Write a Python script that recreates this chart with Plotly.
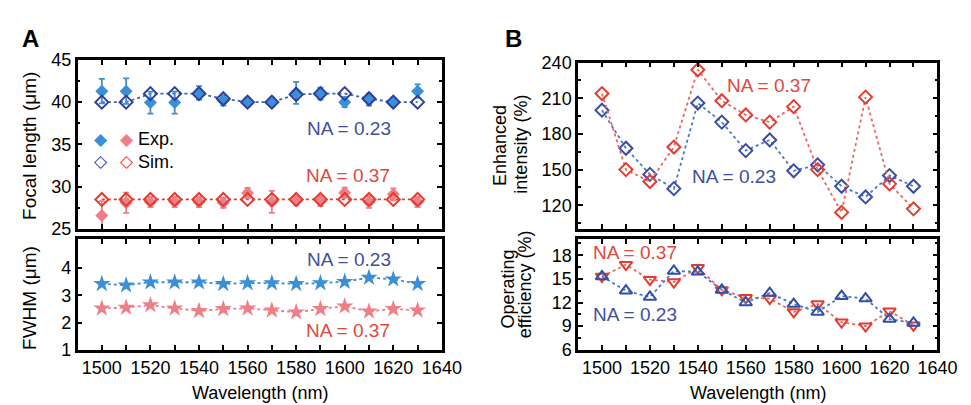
import plotly.graph_objects as go

wavelength = [1500, 1510, 1520, 1530, 1540, 1550, 1560, 1570, 1580, 1590, 1600, 1610, 1620, 1630]

# Panel A top: focal length (um)
focal_exp_023 = [41.3, 41.3, 39.95, 39.95, 41.1, 40.2, 40.0, 40.0, 41.1, 41.0, 40.0, 40.3, 40.0, 41.3]
focal_exp_023_err = [1.45, 1.5, 1.3, 1.3, 0.8, 0.6, 0.5, 0.5, 1.3, 0.7, 0.6, 0.7, 0.5, 0.8]
focal_sim_023 = [40.0, 40.0, 41.0, 41.0, 41.0, 40.4, 40.0, 40.0, 40.9, 41.0, 41.0, 40.4, 40.0, 40.0]
focal_exp_037 = [26.6, 28.1, 28.2, 28.2, 28.2, 28.1, 29.25, 28.2, 28.3, 28.3, 29.3, 28.2, 29.1, 28.2]
focal_exp_037_err = [1.7, 1.2, 0.6, 0.6, 0.6, 0.6, 0.6, 1.3, 0.5, 0.6, 0.6, 0.7, 0.7, 0.6]
focal_sim_037 = [28.5] * 14

# Panel A bottom: FWHM (um)
fwhm_023 = [3.42, 3.37, 3.48, 3.48, 3.48, 3.42, 3.45, 3.45, 3.42, 3.45, 3.50, 3.65, 3.59, 3.42]
fwhm_037 = [2.52, 2.55, 2.64, 2.52, 2.43, 2.50, 2.52, 2.45, 2.38, 2.50, 2.60, 2.41, 2.50, 2.45]

# Panel B top: enhanced intensity (%)
intensity_023 = [200, 168, 146, 134, 206, 190, 166, 175, 149, 154, 136, 127, 145, 136]
intensity_037 = [214, 150, 140, 169, 234, 208, 196, 190, 203, 150, 114, 211, 138, 117]

# Panel B bottom: operating efficiency (%)
efficiency_023 = [15.3, 13.5, 12.7, 16.0, 15.9, 13.6, 12.0, 13.2, 11.8, 10.8, 12.8, 12.5, 9.9, 9.4]
efficiency_037 = [15.3, 16.8, 14.9, 14.6, 16.4, 13.6, 12.6, 12.5, 10.8, 11.8, 9.5, 9.0, 10.9, 9.1]

x_tick_vals = [1500, 1520, 1540, 1560, 1580, 1600, 1620, 1640]

W, H = 971, 405
FONT = "Liberation Sans, Arial, sans-serif"

C_EXP_B = "#3b8fd4"
C_SIM_B = "#2e3f9c"
C_LINE_B = "#3d62b8"
C_EXP_R = "#ee7f87"
C_SIM_R = "#e63c30"
C_TXT_B = "#3c4fa0"
C_TXT_R = "#e5463a"

fig = go.Figure()

# ---- Panel A top
fig.add_trace(go.Scatter(x=wavelength, y=focal_sim_023, mode="lines", line=dict(color=C_LINE_B, width=1.8, dash="dot"),
                         xaxis="x", yaxis="y", showlegend=False))
fig.add_trace(go.Scatter(x=wavelength, y=focal_sim_037, mode="lines", line=dict(color=C_SIM_R, width=1.8, dash="dot"),
                         xaxis="x", yaxis="y", showlegend=False))
fig.add_trace(go.Scatter(x=wavelength, y=focal_exp_023, mode="markers",
                         marker=dict(symbol="diamond", size=10, color=C_EXP_B),
                         error_y=dict(type="data", array=focal_exp_023_err, color=C_EXP_B, thickness=1.8, width=3),
                         xaxis="x", yaxis="y", showlegend=False))
fig.add_trace(go.Scatter(x=wavelength, y=focal_exp_037, mode="markers",
                         marker=dict(symbol="diamond", size=10, color=C_EXP_R),
                         error_y=dict(type="data", array=focal_exp_037_err, color=C_EXP_R, thickness=1.8, width=3),
                         xaxis="x", yaxis="y", showlegend=False))
fig.add_trace(go.Scatter(x=wavelength, y=focal_sim_023, mode="markers",
                         marker=dict(symbol="diamond-open", size=10, color=C_SIM_B, line=dict(width=2)),
                         xaxis="x", yaxis="y", showlegend=False))
fig.add_trace(go.Scatter(x=wavelength, y=focal_sim_037, mode="markers",
                         marker=dict(symbol="diamond-open", size=10, color=C_SIM_R, line=dict(width=2)),
                         xaxis="x", yaxis="y", showlegend=False))

# ---- Panel A bottom
fig.add_trace(go.Scatter(x=wavelength, y=fwhm_023, mode="lines+markers",
                         line=dict(color=C_EXP_B, width=1.8, dash="dot"),
                         marker=dict(symbol="star", size=13, color=C_EXP_B),
                         xaxis="x2", yaxis="y2", showlegend=False))
fig.add_trace(go.Scatter(x=wavelength, y=fwhm_037, mode="lines+markers",
                         line=dict(color=C_EXP_R, width=1.8, dash="dot"),
                         marker=dict(symbol="star", size=13, color=C_EXP_R),
                         xaxis="x2", yaxis="y2", showlegend=False))

# ---- Panel B top
fig.add_trace(go.Scatter(x=wavelength, y=intensity_023, mode="lines+markers",
                         line=dict(color="#4a78c8", width=1.8, dash="dot"),
                         marker=dict(symbol="diamond-open", size=10, color="#3a4ea6", line=dict(width=2)),
                         xaxis="x3", yaxis="y3", showlegend=False))
fig.add_trace(go.Scatter(x=wavelength, y=intensity_037, mode="lines+markers",
                         line=dict(color="#ee6660", width=1.8, dash="dot"),
                         marker=dict(symbol="diamond-open", size=10, color=C_SIM_R, line=dict(width=2)),
                         xaxis="x3", yaxis="y3", showlegend=False))

# ---- Panel B bottom
fig.add_trace(go.Scatter(x=wavelength, y=efficiency_037, mode="lines+markers",
                         line=dict(color="#ee6660", width=1.8, dash="dot"),
                         marker=dict(symbol="triangle-down-open", size=11, color=C_SIM_R, line=dict(width=2)),
                         xaxis="x4", yaxis="y4", showlegend=False))
fig.add_trace(go.Scatter(x=wavelength, y=efficiency_023, mode="lines+markers",
                         line=dict(color="#4a78c8", width=1.8, dash="dot"),
                         marker=dict(symbol="triangle-up-open", size=11, color="#2f4fa8", line=dict(width=2)),
                         xaxis="x4", yaxis="y4", showlegend=False))

xA = [71 / W, 443 / W]
xB = [582 / W, 949 / W]
y_top_A = [1 - 222 / H, 1 - 44 / H]
y_top_B = [1 - 222 / H, 1 - 47 / H]
y_bot = [1 - 349 / H, 1 - 233 / H]

tickfont = dict(family=FONT, size=18, color="black")


def xax(domain, anchor, labels):
    return dict(domain=domain, anchor=anchor, range=[1490, 1640], tickvals=x_tick_vals,
                showticklabels=labels, tickfont=tickfont, ticks="inside", ticklen=5, tickwidth=2,
                tickcolor="black", showline=True, linewidth=2.5, linecolor="black", mirror="allticks",
                showgrid=False, zeroline=False,
                minor=dict(dtick=10, tick0=1500, ticks="inside", ticklen=5, tickwidth=2, tickcolor="black", showgrid=False))


def yax(domain, anchor, rng, dtick, minor_dtick, tickvals=None):
    d = dict(domain=domain, anchor=anchor, range=rng, tickfont=tickfont, ticks="inside", ticklen=5,
             tickwidth=2, tickcolor="black", showline=True, linewidth=2.5, linecolor="black",
             mirror="allticks", showgrid=False, zeroline=False, dtick=dtick, tick0=0)
    if tickvals is not None:
        d["tickvals"] = tickvals
    if minor_dtick:
        d["minor"] = dict(dtick=minor_dtick, ticks="inside", ticklen=3, tickwidth=2, tickcolor="black", showgrid=False)
    return d


fig.update_layout(
    width=W, height=H, margin=dict(l=0, r=0, t=0, b=0),
    paper_bgcolor="white", plot_bgcolor="white", font=dict(family=FONT, color="black"),
    xaxis=xax(xA, "y", False),
    yaxis=yax(y_top_A, "x", [25, 45], 5, 2.5),
    xaxis2=xax(xA, "y2", True),
    yaxis2=yax(y_bot, "x2", [1, 5.05], 1, None, [1, 2, 3, 4]),
    xaxis3=xax(xB, "y3", False),
    yaxis3=yax(y_top_B, "x3", [100, 240], 30, 15, [120, 150, 180, 210, 240]),
    xaxis4=xax(xB, "y4", True),
    yaxis4=yax(y_bot, "x4", [6, 20], 3, 1.5, [6, 9, 12, 15, 18]),
)


def ann(text, x, y, size=19, color="black", angle=0, bold=False, xanchor="center", family=FONT):
    fig.add_annotation(text=f"<b>{text}</b>" if bold else text, x=x / W, y=1 - y / H, xref="paper", yref="paper",
                       showarrow=False, textangle=angle, xanchor=xanchor, yanchor="middle",
                       font=dict(family=family, size=size, color=color))


ann("A", 23, 22, size=24, bold=True)
ann("B", 516, 22, size=24, bold=True)
ann("Focal length (μm)", 22, 135, size=19, angle=-90)
ann("FWHM (μm)", 22, 295, size=19, angle=-90)
ann("Enhanced", 503, 134, size=18, angle=-90)
ann("intensity (%)", 524, 133, size=18, angle=-90)
ann("Operating", 510, 285, size=18, angle=-90)
ann("efficiency (%)", 528, 280, size=18, angle=-90)
ann("Wavelength (nm)", 257, 394, size=18)
ann("Wavelength (nm)", 766, 394, size=18)

ann("NA = 0.23", 348, 116, color=C_TXT_B)
ann("NA = 0.37", 347, 166, color=C_TXT_R)
ann("NA = 0.23", 348, 254, color=C_TXT_B)
ann("NA = 0.37", 347, 329, color=C_TXT_R)
ann("NA = 0.37", 777, 71, color=C_TXT_R)
ann("NA = 0.23", 741, 167, color=C_TXT_B)
ann("NA = 0.37", 640, 247, color=C_TXT_R)
ann("NA = 0.23", 640, 312, color=C_TXT_B)

# legend (panel A): one column per marker colour, one for the labels
ann(f'◆<br><span style="color:{C_SIM_B}"><b>◇</b></span>', 95, 139, size=17, color=C_EXP_B, family="DejaVu Sans")
ann(f'◆<br><span style="color:{C_SIM_R}"><b>◇</b></span>', 122, 139, size=17, color=C_EXP_R, family="DejaVu Sans")
ann("Exp.<br>Sim.", 131, 139, size=18, xanchor="left")

fig.write_html("out.html")
